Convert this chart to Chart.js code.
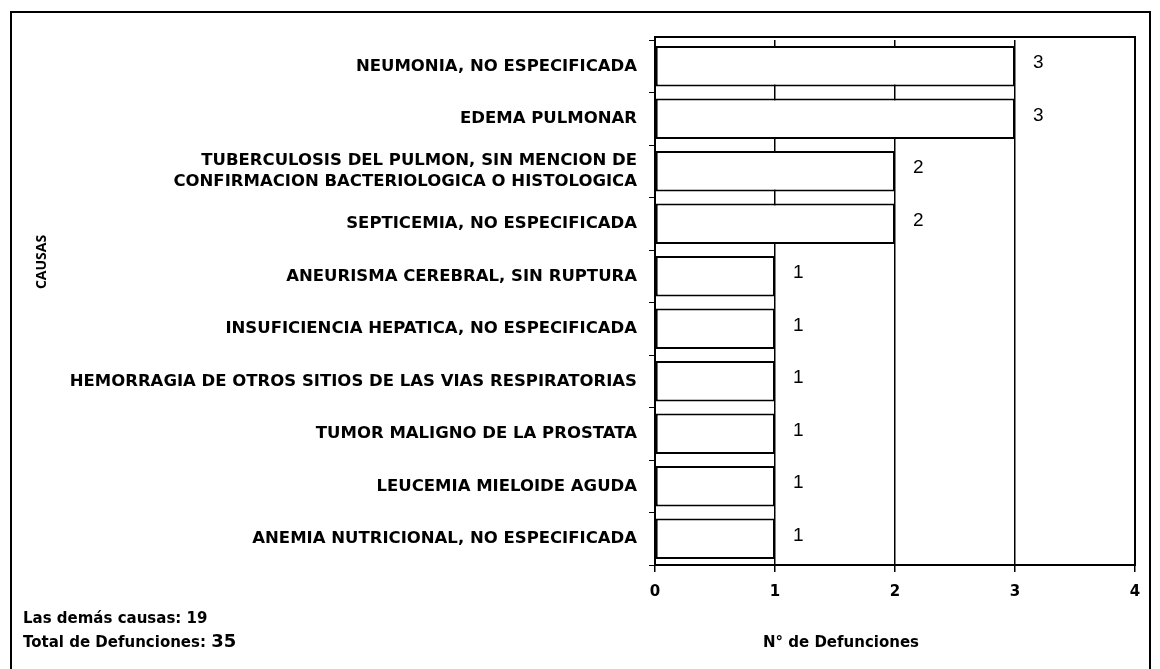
<!DOCTYPE html>
<html>
<head>
<meta charset="utf-8">
<script src="https://cdn.jsdelivr.net/npm/chart.js"></script>
<style>
  html, body { margin: 0; padding: 0; background: #fff; }
  #wrap { width: 1160px; height: 669px; position: relative; }
</style>
</head>
<body>
<div id="wrap"><canvas id="myChart" width="1160" height="669"></canvas></div>
<script>
// datos
const causas = [
  "NEUMONIA, NO ESPECIFICADA",
  "EDEMA PULMONAR",
  ["TUBERCULOSIS DEL PULMON, SIN MENCION DE", "CONFIRMACION BACTERIOLOGICA O HISTOLOGICA"],
  "SEPTICEMIA, NO ESPECIFICADA",
  "ANEURISMA CEREBRAL, SIN RUPTURA",
  "INSUFICIENCIA HEPATICA, NO ESPECIFICADA",
  "HEMORRAGIA DE OTROS SITIOS DE LAS VIAS RESPIRATORIAS",
  "TUMOR MALIGNO DE LA PROSTATA",
  "LEUCEMIA MIELOIDE AGUDA",
  "ANEMIA NUTRICIONAL, NO ESPECIFICADA"
];
const defunciones = [3, 3, 2, 2, 1, 1, 1, 1, 1, 1];
const demasCausas = 19;
const totalDefunciones = 35;

const labelFont = "'DejaVu Sans', 'Liberation Sans', sans-serif";

const extras = {
  id: 'extras',
  afterDatasetsDraw(chart) {
    const ctx = chart.ctx;
    const meta = chart.getDatasetMeta(0);
    ctx.save();
    ctx.fillStyle = '#000';
    ctx.font = "19px 'Liberation Sans', Arial, sans-serif";
    ctx.textAlign = 'left';
    ctx.textBaseline = 'middle';
    meta.data.forEach((bar, i) => {
      ctx.fillText(defunciones[i], bar.x + 18, bar.y - 3);
    });
    // marco del area (el borde superior queda un poco por encima)
    const a = chart.chartArea;
    ctx.strokeStyle = '#000';
    ctx.lineWidth = 2;
    ctx.strokeRect(a.left, a.top - 3, a.right - a.left, a.bottom - a.top + 3);
    ctx.restore();
  },
  afterDraw(chart) {
    const ctx = chart.ctx;
    ctx.save();
    // borde exterior
    ctx.strokeStyle = '#000';
    ctx.lineWidth = 2;
    ctx.strokeRect(11, 12, 1139, 680);
    ctx.fillStyle = '#000';
    // titulo eje y
    ctx.save();
    ctx.translate(42, 262);
    ctx.rotate(-Math.PI / 2);
    ctx.font = "bold 14px 'Open Sans', sans-serif";
    ctx.textAlign = 'center';
    ctx.textBaseline = 'middle';
    ctx.fillText('CAUSAS', 0, 0);
    ctx.restore();
    // titulo eje x
    ctx.font = "bold 15px " + labelFont;
    ctx.textAlign = 'center';
    ctx.textBaseline = 'middle';
    ctx.fillText('N° de Defunciones', 841, 643);
    // notas
    ctx.textAlign = 'left';
    ctx.font = "bold 15px " + labelFont;
    ctx.fillText('Las demás causas: ' + demasCausas, 23, 619);
    const t = 'Total de Defunciones: ';
    ctx.fillText(t, 23, 643);
    const w = ctx.measureText(t).width;
    ctx.font = "bold 18px " + labelFont;
    ctx.fillText(String(totalDefunciones), 23 + w, 642);
    ctx.restore();
  }
};

new Chart(document.getElementById("myChart"), {
  type: 'bar',
  data: {
    labels: causas,
    datasets: [{
      label: "N° de Defunciones",
      data: defunciones,
      backgroundColor: '#ffffff',
      borderColor: '#000000',
      borderWidth: 2,
      borderSkipped: false,
      barPercentage: 0.77,
      categoryPercentage: 1.0
    }]
  },
  options: {
    indexAxis: 'y',
    responsive: false,
    animation: false,
    layout: { padding: { top: 40, right: 25, left: 0, bottom: 0 } },
    plugins: {
      legend: { display: false },
      title: { display: false },
      tooltip: { enabled: false }
    },
    scales: {
      x: {
        min: 0,
        max: 4,
        ticks: {
          stepSize: 1,
          color: '#000',
          padding: 11,
          font: { family: labelFont, size: 15, weight: 'bold' }
        },
        grid: { color: '#000', lineWidth: 1.5, tickLength: 7, tickColor: '#000' },
        border: { display: true, color: '#000', width: 2 },
        afterFit(scale) { scale.height = 104; }
      },
      y: {
        ticks: {
          color: '#000',
          padding: 12,
          font: { family: labelFont, size: 16.5, weight: 'bold', lineHeight: 1.3 }
        },
        grid: { drawOnChartArea: false, drawTicks: true, tickLength: 6, color: '#000' },
        border: { display: true, color: '#000', width: 2 },
        afterFit(scale) { scale.width = 655; }
      }
    }
  },
  plugins: [extras]
});
</script>
</body>
</html>
